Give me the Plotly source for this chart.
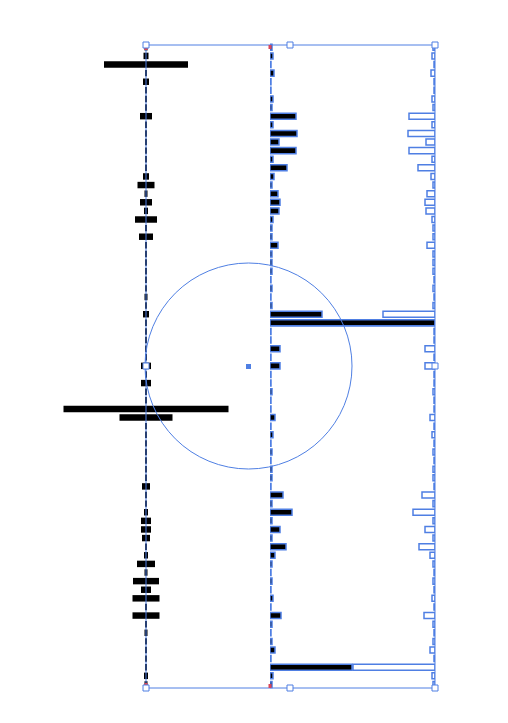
import plotly.graph_objects as go

# ---- data (one row per category, 75 rows top to bottom) ----
rows = list(range(75))

left_vals = [3, 5, 84, 2, 6, 2, 2, 2, 12, 1,
             2, 1, 2, 1, 2, 6, 17, 3, 12, 4,
             22, 2, 14, 2, 2, 2, 2, 1, 1, 3,
             1, 6, 1, 1, 1, 1, 1, 10, 1, 10,
             1, 1, 165, 53, 1, 1, 1, 2, 1, 2,
             2, 8, 2, 2, 4, 10, 10, 8, 2, 4,
             18, 3, 26, 10, 27, 2, 27, 1, 3, 1,
             1, 2, 1, 4, 3]

mid_vals = [2, 3, 1, 4, 1, 1, 3, 2, 26, 3,
            27, 9, 26, 3, 17, 4, 2, 8, 10, 9,
            3, 2, 2, 8, 2, 2, 2, 1, 2, 1,
            2, 52, 165, 1, 1, 10, 1, 10, 1, 1,
            2, 1, 1, 5, 1, 3, 1, 2, 1, 2,
            2, 1, 13, 2, 22, 2, 10, 2, 16, 5,
            2, 1, 2, 1, 3, 1, 11, 2, 1, 2,
            5, 1, 82, 3, 2]

OFF = 8  # page body margin
W, H = 500, 715
BLUE = "#4f7fe3"

def px(x):
    return (x - OFF) / W

def py(y):
    return 1 - (y - OFF) / H

fig = go.Figure()
# left: centred bars
fig.add_bar(y=rows, x=left_vals, base=[-v / 2 for v in left_vals], orientation="h",
            marker=dict(color="black", line=dict(width=0)), width=0.75,
            xaxis="x", yaxis="y", hoverinfo="skip")
# right: mirrored outline copies (drawn underneath)
fig.add_bar(y=rows, x=mid_vals, orientation="h",
            marker=dict(color="white", line=dict(color=BLUE, width=1.5)), width=0.7,
            xaxis="x2", yaxis="y", hoverinfo="skip")
# middle: black bars with selection outline (drawn on top)
fig.add_bar(y=rows, x=mid_vals, orientation="h",
            marker=dict(color="black", line=dict(color=BLUE, width=1.5)), width=0.7,
            xaxis="x3", yaxis="y", hoverinfo="skip")

r0, step = 47.3 - OFF, 8.61
y_top = (0 - r0) / step
y_bot = (H - r0) / step

hidden = dict(showgrid=False, zeroline=False, showticklabels=False, ticks="", showline=False)
fig.update_layout(
    width=W, height=H, margin=dict(l=0, r=0, t=0, b=0),
    paper_bgcolor="white", plot_bgcolor="rgba(0,0,0,0)",
    showlegend=False, barmode="overlay",
    xaxis=dict(domain=[px(8), px(284)], range=[-138, 138], fixedrange=True, **hidden),
    xaxis2=dict(domain=[px(270), px(435)], range=[165, 0], anchor="y", fixedrange=True, **hidden),
    xaxis3=dict(domain=[px(270), px(435)], range=[0, 165], anchor="y", overlaying="x2", fixedrange=True, **hidden),
    yaxis=dict(domain=[0, 1], range=[y_bot, y_top], fixedrange=True, **hidden),
)

shapes = []
# bounding box
shapes.append(dict(type="rect", xref="paper", yref="paper",
                   x0=px(146), x1=px(435), y0=py(45), y1=py(688),
                   line=dict(color=BLUE, width=1), fillcolor="rgba(0,0,0,0)"))
# rotation circle
shapes.append(dict(type="circle", xref="paper", yref="paper",
                   x0=px(145), x1=px(352), y0=py(263), y1=py(469),
                   line=dict(color=BLUE, width=1), fillcolor="rgba(0,0,0,0)"))
# centre dot
shapes.append(dict(type="rect", xref="paper", yref="paper",
                   x0=px(246), x1=px(251), y0=py(364), y1=py(369),
                   line=dict(width=0), fillcolor=BLUE))
# red anchor marks
for (cx, cy) in [(146, 48), (146, 685), (270, 47), (270, 686)]:
    shapes.append(dict(type="rect", xref="paper", yref="paper",
                       x0=px(cx - 1.5), x1=px(cx + 1.5), y0=py(cy - 2), y1=py(cy + 2),
                       line=dict(width=0), fillcolor="#d9455a"))
# handles
for (cx, cy) in [(146, 45), (290, 45), (435, 45), (435, 366), (435, 688),
                 (290, 688), (146, 688), (146, 366)]:
    shapes.append(dict(type="rect", xref="paper", yref="paper",
                       x0=px(cx - 3), x1=px(cx + 3), y0=py(cy - 3), y1=py(cy + 3),
                       line=dict(color=BLUE, width=1), fillcolor="white"))
fig.update_layout(shapes=shapes)

fig.write_html("out.html")
